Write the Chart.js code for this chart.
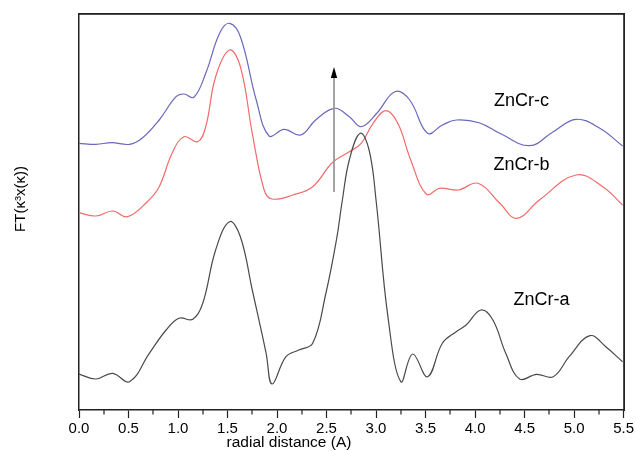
<!DOCTYPE html>
<html>
<head>
<meta charset="utf-8">
<script src="https://cdn.jsdelivr.net/npm/chart.js@4/dist/chart.umd.min.js"></script>
<style>
  html, body { margin: 0; padding: 0; background: #fff; }
  #wrap { width: 636px; height: 451px; }
</style>
</head>
<body>
<div id="wrap"><canvas id="c" width="636" height="451"></canvas></div>
<script>
// Radial distance (Å) sample points and FT magnitudes (arbitrary, offset curves)
const rA = [0.00,0.17,0.34,0.51,0.71,0.88,1.01,1.15,1.25,1.38,1.52,1.63,1.75,1.89,1.95,2.09,2.22,2.36,2.49,2.60,2.66,2.73,2.84,2.93,3.00,3.12,3.25,3.37,3.52,3.67,3.81,3.91,4.06,4.18,4.31,4.45,4.62,4.79,4.95,5.16,5.32,5.49];
const ftA = [36,31,36.7,28.3,56.7,80,91.7,90.7,106.7,160,188.3,173.3,120,56.7,26,53.3,60,66.7,115,170,210,250,276.7,260,210,93.3,28.3,56,33.3,66.7,78.3,85,100,90,56.7,31,35.7,33.3,53.3,74.3,63.3,48.3];

const rB = [0.00,0.17,0.34,0.49,0.69,0.81,0.94,1.06,1.20,1.28,1.38,1.52,1.63,1.75,1.87,1.95,2.16,2.36,2.56,2.73,2.85,2.97,3.10,3.22,3.35,3.51,3.64,3.83,4.03,4.25,4.42,4.65,5.02,5.29,5.49];
const ftB = [197.3,194,199,193.3,208.3,223.3,256.7,273.3,268.3,283.3,333.3,360,343.3,276.7,220,211,215,223.3,247.5,258.3,266.7,286.7,299.3,286.7,250,215.7,221.7,220,226.7,206.7,191.7,210,235,223.3,205];

const rC = [0.00,0.17,0.33,0.51,0.64,0.81,0.98,1.06,1.16,1.28,1.42,1.52,1.63,1.79,1.92,2.07,2.24,2.39,2.58,2.73,2.85,3.01,3.19,3.34,3.52,3.67,3.81,4.04,4.25,4.55,4.79,5.02,5.26,5.49];
const ftC = [266.7,265.7,267.3,265.7,272,290,313.3,316,312.7,336.7,376.7,386.7,373.3,310,274,280.7,275,290,301.7,293.3,283.3,297,318.3,310,276.7,285,290,287.3,276.7,264.3,278.3,290.7,281.7,264];

const xTicks = [0.0,0.5,1.0,1.5,2.0,2.5,3.0,3.5,4.0,4.5,5.0,5.5];
const xMinorTicks = [0.25,0.75,1.25,1.75,2.25,2.75,3.25,3.75,4.25,4.75,5.25];

const seriesNames = ['ZnCr-a','ZnCr-b','ZnCr-c'];
// curve labels placed in data space: [name, r, FT]
const curveLabels = [['ZnCr-c',4.47,309],['ZnCr-b',4.47,245],['ZnCr-a',4.67,110]];
// vertical arrow at r = 2.58 from FT 218 up to FT 343
const arrowR = 2.58, arrowFrom = 218, arrowTo = 343;

const pts = (xs, ys) => xs.map((x, i) => ({x, y: ys[i]}));
const FONT = '"Liberation Sans", Arial, sans-serif';

const extras = {
  id: 'extras',
  afterDraw(chart) {
    const {ctx, chartArea: a, scales: {x, y}} = chart;
    ctx.save();
    // top and right edges of the plot frame
    const L = Math.round(a.left), T = Math.round(a.top), R = Math.round(a.right), B = Math.round(a.bottom);
    ctx.fillStyle = '#222';
    ctx.fillRect(L - 1, T - 1, R - L + 2, 1.8);
    ctx.fillRect(R - 0.8, T - 1, 1.8, B - T + 2);
    // minor ticks below the bottom axis
    xMinorTicks.forEach(v => {
      const px = Math.round(x.getPixelForValue(v));
      ctx.fillRect(px - 0.6, B, 1.2, 4.5);
    });
    // arrow shaft and head
    const ax = Math.round(x.getPixelForValue(arrowR));
    const y0 = y.getPixelForValue(arrowFrom), y1 = y.getPixelForValue(arrowTo);
    ctx.fillStyle = '#9a9a9a';
    ctx.fillRect(ax - 0.9, y1 + 8, 1.8, y0 - y1 - 8);
    ctx.fillStyle = '#000';
    ctx.beginPath(); ctx.moveTo(ax, y1); ctx.lineTo(ax - 3.2, y1 + 11); ctx.lineTo(ax + 3.2, y1 + 11); ctx.closePath(); ctx.fill();
    // curve labels
    ctx.font = '18px ' + FONT;
    ctx.textAlign = 'center'; ctx.textBaseline = 'middle';
    curveLabels.forEach(([t, r, v]) => ctx.fillText(t, x.getPixelForValue(r), y.getPixelForValue(v)));
    // axis titles
    ctx.font = '15.5px ' + FONT;
    ctx.fillText('radial distance (A)', 289, 443);
    ctx.translate(21, 199);
    ctx.rotate(-Math.PI / 2);
    ctx.font = '15px ' + FONT;
    ctx.fillText('FT(\u03BA\u00B3x(\u03BA))', 0, 0);
    ctx.restore();
  }
};

new Chart(document.getElementById('c'), {
  type: 'line',
  data: {
    datasets: [
      {label: seriesNames[0], data: pts(rA, ftA), borderColor: '#4a4a4a'},
      {label: seriesNames[1], data: pts(rB, ftB), borderColor: '#f26a6a'},
      {label: seriesNames[2], data: pts(rC, ftC), borderColor: '#6868bf'}
    ].map(d => Object.assign(d, {borderWidth: 1.2, pointRadius: 0, tension: 0.4, fill: false}))
  },
  options: {
    responsive: false,
    animation: false,
    layout: {padding: {top: 14, right: 12, left: 0, bottom: 0}},
    plugins: {legend: {display: false}, tooltip: {enabled: false}},
    scales: {
      x: {
        type: 'linear', min: 0, max: 5.5,
        afterBuildTicks: s => { s.ticks = xTicks.map(v => ({value: v})); },
        afterFit: s => { s.height = 41; },
        ticks: {
          color: '#000', padding: 2, maxRotation: 0, autoSkip: false,
          font: {family: FONT, size: 15},
          callback: v => v.toFixed(1)
        },
        grid: {drawOnChartArea: false, tickLength: 8, tickColor: '#222', tickWidth: 1.2},
        border: {color: '#222', width: 1.5}
      },
      y: {
        min: 0, max: 396,
        afterFit: s => { s.width = 79; },
        ticks: {display: false},
        grid: {display: false},
        border: {color: '#222', width: 1.5}
      }
    }
  },
  plugins: [extras]
});
</script>
</body>
</html>
